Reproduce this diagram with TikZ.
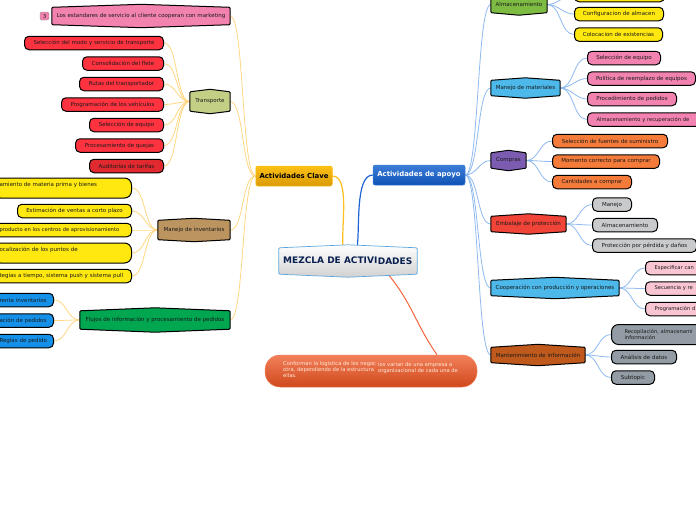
\documentclass[tikz,border=0pt]{standalone}
\usepackage{fontspec}
\setmainfont{DejaVu Sans}
\usepackage{tikz}
\usetikzlibrary{positioning,backgrounds}
\definecolor{cPink}{HTML}{F283B0}
\definecolor{cRed}{HTML}{FF3340}
\definecolor{cRedD}{HTML}{E02A30}
\definecolor{cYel}{HTML}{FFE80F}
\definecolor{cBlu}{HTML}{1590E8}
\definecolor{cOra}{HTML}{F57B3A}
\definecolor{cGry}{HTML}{C9CACC}
\definecolor{cRos}{HTML}{FAC5D3}
\definecolor{cSla}{HTML}{939CA4}
\definecolor{cSky}{HTML}{4DB8EA}
\definecolor{cTrans}{HTML}{C3CF85}
\definecolor{cInv}{HTML}{BC9460}
\definecolor{cFlu}{HTML}{00A650}
\definecolor{cAlm}{HTML}{7DBB42}
\definecolor{cCom}{HTML}{7C5CB0}
\definecolor{cEmb}{HTML}{F04438}
\definecolor{cMan}{HTML}{C05A1C}
\definecolor{cClaveT}{HTML}{FCC015}
\definecolor{cClaveB}{HTML}{DA9A05}
\definecolor{cApoyoT}{HTML}{3C7DD8}
\definecolor{cApoyoB}{HTML}{0E52B4}
\definecolor{cNotaT}{HTML}{F2805A}
\definecolor{cNotaB}{HTML}{D0481C}
\definecolor{cTitle}{HTML}{0A2050}
\definecolor{cEdge}{HTML}{5BA7DC}
\definecolor{lineO}{HTML}{FFD681}
\definecolor{lineB}{HTML}{8DB8F0}
\definecolor{lineC}{HTML}{FFBE1E}
\definecolor{lineA}{HTML}{1E64D2}
\definecolor{lineN}{HTML}{F2663C}

\begin{document}
\begin{tikzpicture}[x=1pt, y=-1pt, font=\fontsize{5.5}{6.5}\selectfont, text=black!90]
\tikzstyle{leaf}=[draw=black, line width=1pt, rounded corners=4.5pt, align=center, minimum height=13.5pt, inner sep=0pt]
\tikzstyle{leafb}=[leaf, rounded corners=7pt, minimum height=20pt]
\tikzstyle{bar}=[align=center, inner sep=0pt, minimum height=15pt]
\tikzstyle{main}=[rounded corners=2pt, inner sep=0pt, minimum height=20pt, font=\fontsize{6.9}{8}\selectfont\bfseries]
\tikzstyle{small}=[font=\fontsize{5.2}{6.2}\selectfont]
\useasboundingbox (0,0) rectangle (696,520);

% centre
\node[minimum width=138pt, minimum height=26pt, inner sep=0pt] (mezcla) at (348,261) {};
\node[inner sep=0pt, anchor=west, text=cTitle, font=\fontsize{9}{10}\selectfont\bfseries] (mezclaa) at (283,260.5) {MEZCLA DE ACTIVI};
\node[inner sep=0pt, text=cTitle, font=\fontsize{9}{10}\selectfont\bfseries, right=0pt of mezclaa, yshift=-1pt] (mezclab) {DADES};
\node[main, minimum width=76.5pt, text=black, draw=cClaveT, line width=0.5pt, top color=cClaveT, bottom color=cClaveB] (clave) at (294,176) {Actividades Clave};
\node[main, minimum width=92pt, text=white, draw=cApoyoT, line width=0.5pt, top color=cApoyoT, bottom color=cApoyoB] (apoyo) at (419,175) {Actividades de apoyo};
\node[minimum width=212pt, minimum height=32pt, inner sep=0pt, rounded corners=15pt, draw=cNotaT, line width=0.5pt, top color=cNotaT, bottom color=cNotaB] (nota) at (371,371) {};
\node[small, anchor=north west, inner sep=0pt, align=left, text=white!85!orange] (notaa) at (283,361) {Conforman la logistica de los negoc\\otra, dependiendo de la estructura\\ellas.};
\node[small, anchor=north west, inner sep=0pt, align=left, text=white!85!orange] (notab) at (378,362) {ios varian de una empresa a\\organizacional de cada una de};

% left side
\node[bar, minimum width=178pt, minimum height=17pt] (mkt) at (141,16) {Los estandares de servicio al cliente cooperan con marketing};
\node[draw=black!45, fill=cPink, rounded corners=2pt, minimum width=9pt, minimum height=8pt, inner sep=0pt] (num) at (44.5,16) {3};
\node[bar, minimum width=40pt, minimum height=19pt] (trans) at (210,101.5) {Transporte};
\node[leaf, fill=cRed, minimum width=139pt, anchor=east] (tr1) at (164,43) {Selección del modo y servicio de transporte};
\node[leaf, fill=cRed, minimum width=81pt, below=6pt of tr1.south east, anchor=north east] (tr2) {Consolidación del flete};
\node[leaf, fill=cRed, minimum width=84pt, below=6pt of tr2.south east, anchor=north east] (tr3) {Rutas del transportador};
\node[leaf, fill=cRed, minimum width=102pt, below=6pt of tr3.south east, anchor=north east] (tr4) {Programación de los vehículos};
\node[leaf, fill=cRed, minimum width=74pt, below=6pt of tr4.south east, anchor=north east] (tr5) {Selección de equipo};
\node[leaf, fill=cRed, minimum width=88pt, below=6pt of tr5.south east, anchor=north east] (tr6) {Procesamiento de quejas};
\node[leaf, fill=cRedD, minimum width=74pt, below=6pt of tr6.south east, anchor=north east] (tr7) {Auditorías de tarifas};

\node[bar, minimum width=72pt, minimum height=19pt] (inv) at (194,230) {Manejo de inventarios};
\node[leafb, fill=cYel, anchor=east, text width=126pt, align=left, inner xsep=6pt] (inv1) at (132,188) {amiento de materia prima y bienes\\~};
\node[leaf, fill=cYel, minimum width=114pt, anchor=east] (inv2) at (132,211) {Estimación de ventas a corto plazo};
\node[leaf, small, fill=cYel, anchor=east, text width=126pt, align=left, inner xsep=6pt] (inv3) at (132,230) {producto en los centros de aprovisionamiento};
\node[leafb, fill=cYel, anchor=east, text width=126pt, align=left, inner xsep=6pt] (inv4) at (132,253) {ocalización de los puntos de\\~};
\node[leaf, fill=cYel, anchor=east, text width=126pt, align=left, inner xsep=6pt] (inv5) at (132,276) {tegias a tiempo, sistema push y sistema pull};

\node[bar, minimum width=150pt, minimum height=18pt] (flu) at (155,320) {Flujos de información y procesamiento de pedidos};
\node[leaf, fill=cBlu, anchor=east, text width=48pt, align=left, inner xsep=6pt] (flu1) at (54,300) {renta inventarios};
\node[leaf, fill=cBlu, below=6pt of flu1.south east, anchor=north east, text width=48pt, align=left, inner xsep=6pt] (flu2) {ación de pedidos};
\node[leaf, fill=cBlu, below=6pt of flu2.south east, anchor=north east, text width=48pt, align=left, inner xsep=6pt] (flu3) {Reglas de pedido};

% right side
\node[bar, minimum width=56pt, minimum height=16pt] (alm) at (519,4.5) {Almacenamiento};
\node[leaf, fill=cYel, minimum width=90pt, anchor=west] (alm0) at (574,-5) {};
\node[leaf, fill=cYel, minimum width=89pt, anchor=west] (alm1) at (574,14) {Configuracion de almacen};
\node[leaf, fill=cYel, minimum width=88pt, below=6pt of alm1.south west, anchor=north west] (alm2) {Colocacion de existencias};

\node[bar, minimum width=69pt] (mat) at (525.5,88) {Manejo de materiales};
\node[leaf, fill=cPink, minimum width=73pt, anchor=west] (mat1) at (587,58) {Selección de equipo};
\node[leaf, fill=cPink, minimum width=108pt, below=6pt of mat1.south west, anchor=north west] (mat2) {Política de reemplazo de equipos};
\node[leaf, fill=cPink, minimum width=89pt, below=6pt of mat2.south west, anchor=north west] (mat3) {Procedimiento de pedidos};
\node[leaf, small, fill=cPink, below=6pt of mat3.south west, anchor=north west, text width=110pt, align=left, inner xsep=9pt] (mat4) {Almacenamiento y recuperación de};

\node[bar, minimum width=35pt] (com) at (508.5,160.5) {Compras};
\node[leaf, fill=cOra, minimum width=115pt, anchor=west] (com1) at (552,141) {Selección de fuentes de suministro};
\node[leaf, fill=cOra, minimum width=107pt, below=6pt of com1.south west, anchor=north west] (com2) {Momento correcto para comprar};
\node[leaf, fill=cOra, minimum width=79pt, below=6pt of com2.south west, anchor=north west] (com3) {Cantidades a comprar};

\node[bar, minimum width=75pt] (emb) at (528.5,224) {Embalaje de protección};
\node[leaf, fill=cGry, minimum width=39pt, anchor=west] (emb1) at (592,204.5) {Manejo};
\node[leaf, fill=cGry, minimum width=65pt, below=6pt of emb1.south west, anchor=north west] (emb2) {Almacenamiento};
\node[leaf, fill=cGry, minimum width=104pt, below=6pt of emb2.south west, anchor=north west] (emb3) {Protección por pérdida y daños};

\node[bar, minimum width=128pt] (coo) at (555,288) {Cooperación con producción y operaciones};
\node[leaf, small, fill=cRos, anchor=west, text width=60pt, align=left, inner xsep=9pt] (coo1) at (645,268) {Especificar can};
\node[leaf, small, fill=cRos, below=6pt of coo1.south west, anchor=north west, text width=60pt, align=left, inner xsep=9pt] (coo2) {Secuencia y re};
\node[leaf, small, fill=cRos, below=6pt of coo2.south west, anchor=north west, text width=60pt, align=left, inner xsep=9pt] (coo3) {Programación d};

\node[bar, minimum width=94pt] (man) at (538,355) {Mantenimiento de información};
\node[leafb, small, fill=cSla, anchor=west, text width=90pt, align=left, inner xsep=13pt] (man1) at (611,334.5) {Recopilación, almacenami\\información};
\node[leaf, fill=cSla, minimum width=65pt, anchor=west] (man2) at (611,357) {Análisis de datos};
\node[leaf, fill=cSla, minimum width=43pt, below=6pt of man2.south west, anchor=north west] (man3) {Subtopic};

\begin{pgfonlayer}{background}
% connectors
\foreach \p/\c in {clave/mkt,clave/trans,clave/inv,clave/flu,trans/tr1,trans/tr2,trans/tr3,trans/tr4,trans/tr5,trans/tr6,trans/tr7,inv/inv1,inv/inv2,inv/inv3,inv/inv4,inv/inv5,flu/flu1,flu/flu2,flu/flu3}
  \draw[lineO, line width=0.8pt] (\p.west) to[out=180, in=0, max distance=14pt] (\c.east);
\foreach \p/\c in {apoyo/alm,apoyo/mat,apoyo/com,apoyo/emb,apoyo/coo,apoyo/man,alm/alm0,alm/alm1,alm/alm2,mat/mat1,mat/mat2,mat/mat3,mat/mat4,com/com1,com/com2,com/com3,emb/emb1,emb/emb2,emb/emb3,coo/coo1,coo/coo2,coo/coo3,man/man1,man/man2,man/man3}
  \draw[lineB, line width=0.8pt] (\p.east) to[out=0, in=180, max distance=14pt] (\c.west);
\draw[lineC, line width=1.2pt] ([xshift=-5pt]mezcla.north) to[out=97, in=0, max distance=18pt] (clave.east);
\draw[lineA, line width=1.2pt] ([xshift=9pt]mezcla.north) to[out=80, in=180, max distance=18pt] (apoyo.west);
\draw[lineN, line width=1pt] ([xshift=40pt]mezcla.south) to[out=-50, in=125] ([xshift=66pt]nota.north);
% bars
\foreach \n/\f/\b in {mkt/cPink/3,trans/cTrans/2.5,inv/cInv/2,flu/cFlu/3,alm/cAlm/2.5,mat/cSky/2.5,com/cCom/2.5,emb/cEmb/2.5,coo/cSky/3,man/cMan/3}
  \draw[draw=black, line width=1pt, fill=\f, rounded corners=1pt] (\n.south west) -- (\n.north west) -- ([yshift=\b pt]\n.north) -- (\n.north east) -- (\n.south east) -- ([yshift=-\b pt]\n.south) -- cycle;
\draw[draw=cEdge, line width=0.7pt, top color=white, bottom color=black!18, rounded corners=1pt] (mezcla.south west) -- (mezcla.north west) -- ([yshift=3pt]mezcla.north) -- (mezcla.north east) -- (mezcla.south east) -- ([yshift=-3pt]mezcla.south) -- cycle;
\end{pgfonlayer}
\end{tikzpicture}
\end{document}
